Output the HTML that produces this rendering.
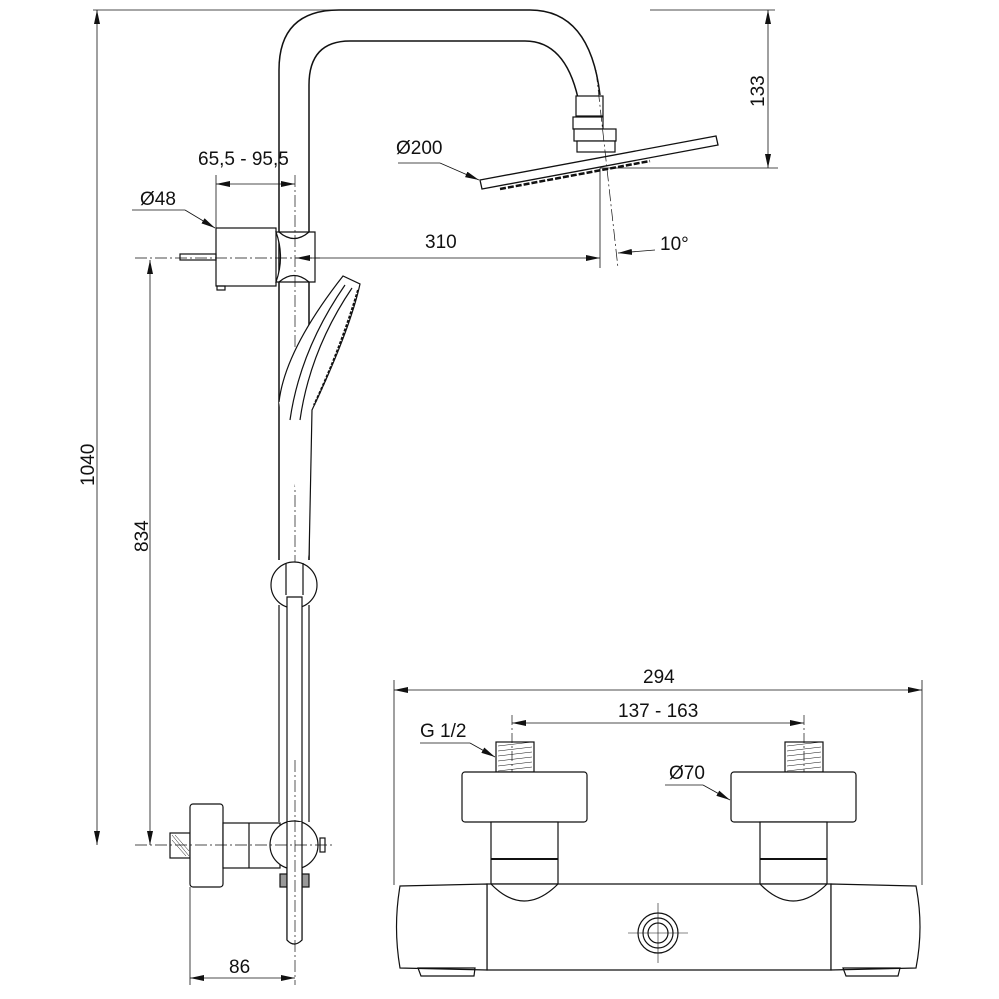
<!DOCTYPE html>
<html><head><meta charset="utf-8"><style>html,body{margin:0;padding:0;background:#fff}svg{display:block}text{font-family:"Liberation Sans",sans-serif;fill:#111}</style></head><body>
<svg width="999" height="999" viewBox="0 0 999 999" xmlns="http://www.w3.org/2000/svg">
<defs><marker id="b" viewBox="0 0 14 6" refX="14" refY="3" markerWidth="14" markerHeight="6" orient="auto-start-reverse" markerUnits="userSpaceOnUse"><path d="M0,0 L14,3 L0,6z" fill="#111"/></marker></defs>
<g fill="none" stroke="#111" stroke-width="1.2">
<line x1="93" y1="10" x2="333" y2="10" stroke-width="0.8"/>
<line x1="650" y1="10" x2="775" y2="10" stroke-width="0.8"/>
<line x1="600" y1="168" x2="778" y2="168" stroke-width="0.8"/>
<line x1="768" y1="10" x2="768" y2="168" stroke-width="0.8" marker-start="url(#b)" marker-end="url(#b)"/>
<path d="M279,560 L279,70 Q279,10 339,10 L530,10 Q590,10 600,95" stroke-width="1.5"/>
<path d="M309,560 L309,85 Q309,41 350,41 L525,41 Q565,41 578,98" stroke-width="1.5"/>
<rect x="576" y="96" width="27" height="20" fill="#fff"/>
<rect x="573" y="117" width="30" height="12" fill="#fff"/>
<rect x="574" y="129" width="42" height="12" fill="#fff"/>
<rect x="577" y="141" width="38" height="11" fill="#fff"/>
<path d="M480,180 L716,136 L718,145 L482,189 Z" fill="#fff" stroke-width="1.3"/>
<path d="M500,189 L650,161" stroke-dasharray="6,2" stroke-width="2.5"/>
<line x1="596" y1="70" x2="618" y2="268" stroke-width="0.7" stroke-dasharray="12,3,2,3"/>
<line x1="600" y1="168" x2="600" y2="268" stroke-width="0.8"/>
<line x1="398" y1="163" x2="440" y2="163" stroke-width="0.8"/>
<line x1="440" y1="163" x2="479" y2="180" stroke-width="0.8" marker-end="url(#b)"/>
<line x1="655" y1="250" x2="618" y2="253" stroke-width="0.8" marker-end="url(#b)"/>
<rect x="216" y="228" width="60" height="58" fill="#fff"/>
<rect x="217" y="286" width="8" height="4"/>
<rect x="180" y="254" width="36" height="6"/>
<path d="M276,232 L315,232 L315,282 L276,282 Q285,257 276,232Z" fill="#fff"/>
<path d="M279,232 Q294,245 309,232 M279,282 Q294,269 309,282" />
<line x1="135" y1="258" x2="320" y2="258" stroke-width="0.7" stroke-dasharray="12,3,2,3"/>
<line x1="296" y1="258" x2="600" y2="258" stroke-width="0.8" marker-start="url(#b)" marker-end="url(#b)"/>
<line x1="295" y1="175" x2="295" y2="600" stroke-width="0.7" stroke-dasharray="12,3,2,3"/>
<line x1="216" y1="175" x2="216" y2="228" stroke-width="0.8"/>
<line x1="216" y1="184" x2="295" y2="184" stroke-width="0.8" marker-start="url(#b)" marker-end="url(#b)"/>
<line x1="132" y1="210" x2="185" y2="210" stroke-width="0.8"/>
<line x1="185" y1="210" x2="215" y2="228" stroke-width="0.8" marker-end="url(#b)"/>
<path d="M279,402 Q285,350 343,276 L360,284 Q350,330 312,410 L309,560" fill="#fff"/>
<path d="M290,420 Q300,350 345,285 M300,420 Q310,350 352,288"/>
<path d="M358,290 Q340,350 314,405" stroke-dasharray="3,1.5" stroke-width="2"/>
<circle cx="294" cy="585" r="23" fill="#fff"/>
<line x1="286" y1="563" x2="286" y2="595"/><line x1="303" y1="563" x2="303" y2="595"/>
<line x1="279" y1="605" x2="279" y2="822"/><line x1="309" y1="605" x2="309" y2="822"/>
<path d="M287,597 L287,940 Q294,948 302,940 L302,597 Z" fill="#fff"/>
<rect x="170" y="833" width="20" height="25"/>
<path d="M172,835 L189,856 M172,840 L186,856 M175,835 L189,851" stroke-width="0.5"/>
<rect x="190" y="804" width="33" height="83" rx="3" fill="#fff"/>
<rect x="223" y="823" width="57" height="45" fill="#fff"/>
<line x1="249" y1="823" x2="249" y2="868"/>
<circle cx="294" cy="845" r="24" fill="#fff"/>
<rect x="320" y="838" width="5" height="14"/>
<rect x="280" y="874" width="7" height="13" fill="#999"/>
<rect x="302" y="874" width="7" height="13" fill="#999"/>
<path d="M287,822 L287,940 Q294,948 302,940 L302,822" fill="#fff"/>
<line x1="295" y1="760" x2="295" y2="985" stroke-width="0.7" stroke-dasharray="12,3,2,3"/>
<line x1="135" y1="845" x2="335" y2="845" stroke-width="0.7" stroke-dasharray="12,3,2,3"/>
<line x1="190" y1="887" x2="190" y2="985" stroke-width="0.8"/>
<line x1="190" y1="978" x2="295" y2="978" stroke-width="0.8" marker-start="url(#b)" marker-end="url(#b)"/>
<line x1="97" y1="10" x2="97" y2="845" stroke-width="0.8" marker-start="url(#b)" marker-end="url(#b)"/>
<line x1="150" y1="260" x2="150" y2="845" stroke-width="0.8" marker-start="url(#b)" marker-end="url(#b)"/>
<!-- thermostat -->
<line x1="394" y1="680" x2="394" y2="885" stroke-width="0.8"/>
<line x1="922" y1="680" x2="922" y2="885" stroke-width="0.8"/>
<line x1="394" y1="690" x2="922" y2="690" stroke-width="0.8" marker-start="url(#b)" marker-end="url(#b)"/>
<line x1="512" y1="715" x2="512" y2="805" stroke-width="0.7" stroke-dasharray="10,3,2,3"/>
<line x1="804" y1="715" x2="804" y2="805" stroke-width="0.7" stroke-dasharray="10,3,2,3"/>
<line x1="512" y1="723" x2="804" y2="723" stroke-width="0.8" marker-start="url(#b)" marker-end="url(#b)"/>
<rect x="496" y="742" width="38" height="30"/>
<rect x="785" y="742" width="38" height="30"/>
<path d="M498,746 L532,742 M498,751 L532,747 M498,756 L532,752 M498,761 L532,757 M498,766 L532,762 M498,771 L532,767 M787,746 L821,742 M787,751 L821,747 M787,756 L821,752 M787,761 L821,757 M787,766 L821,762 M787,771 L821,767" stroke-width="0.5"/>
<rect x="462" y="772" width="125" height="50" rx="3" fill="#fff"/>
<rect x="731" y="772" width="125" height="50" rx="3" fill="#fff"/>
<rect x="491" y="822" width="67" height="62" fill="#fff"/><line x1="491" y1="859" x2="558" y2="859" stroke-width="2"/>
<rect x="760" y="822" width="67" height="62" fill="#fff"/><line x1="760" y1="859" x2="827" y2="859" stroke-width="2"/>
<path d="M487,884 L831,884 L831,970 L487,970 Z" fill="#fff"/>
<path d="M491,884 Q524,918 558,884 M760,884 Q793,918 827,884"/>
<path d="M400,886 L487,884 L487,970 L400,968 Q393,927 400,886Z" fill="#fff"/>
<path d="M831,884 L916,886 Q924,927 916,968 L831,970 Z" fill="#fff"/>
<path d="M418,968 L475,968 L474,976 L421,976Z M843,968 L900,968 L898,976 L846,976Z"/>
<circle cx="658" cy="933" r="20"/><circle cx="658" cy="933" r="15"/><circle cx="658" cy="933" r="10"/>
<line x1="628" y1="933" x2="688" y2="933" stroke-width="0.6"/><line x1="658" y1="903" x2="658" y2="963" stroke-width="0.6"/>
<line x1="420" y1="743" x2="470" y2="743" stroke-width="0.8"/>
<line x1="470" y1="743" x2="495" y2="757" stroke-width="0.8" marker-end="url(#b)"/>
<line x1="665" y1="785" x2="703" y2="785" stroke-width="0.8"/>
<line x1="703" y1="785" x2="730" y2="800" stroke-width="0.8" marker-end="url(#b)"/>
</g>
<g font-size="19">
<text x="198" y="165">65,5 - 95,5</text>
<text x="140" y="205">Ø48</text>
<text x="396" y="154">Ø200</text>
<text x="425" y="248">310</text>
<text x="660" y="250">10°</text>
<text x="229" y="973">86</text>
<text x="643" y="683">294</text>
<text x="618" y="717">137 - 163</text>
<text x="420" y="737">G 1/2</text>
<text x="669" y="779">Ø70</text>
<text transform="translate(764,107) rotate(-90)">133</text>
<text transform="translate(94,486) rotate(-90)">1040</text>
<text transform="translate(148,552) rotate(-90)">834</text>
</g>
</svg>
</body></html>
